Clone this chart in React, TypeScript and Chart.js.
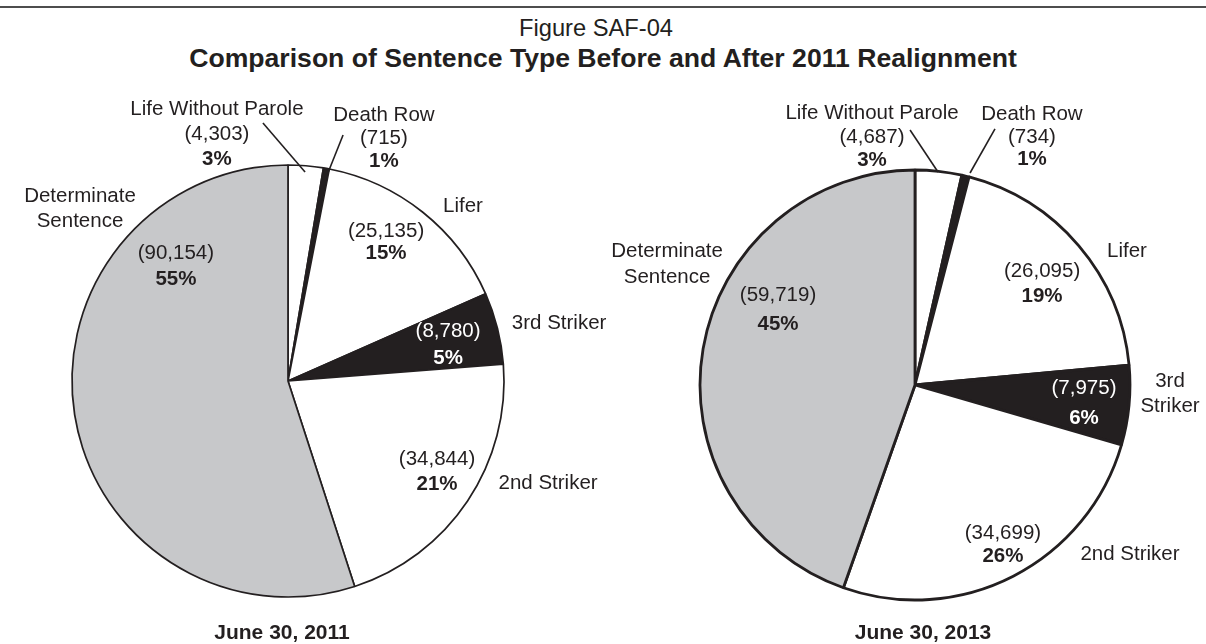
import React, { useEffect, useRef } from 'react';
import { Chart, registerables } from 'chart.js';

Chart.register(...registerables);

// ---------- data ----------
const figureLabel = 'Figure SAF-04';
const titleText = 'Comparison of Sentence Type Before and After 2011 Realignment';

const names2011 = ['Life Without Parole', 'Death Row', 'Lifer', '3rd Striker', '2nd Striker', 'Determinate\nSentence'];
const counts2011 = [4303, 715, 25135, 8780, 34844, 90154];
const percents2011 = [3, 1, 15, 5, 21, 55];
const date2011 = 'June 30, 2011';

const names2013 = ['Life Without Parole', 'Death Row', 'Lifer', '3rd\nStriker', '2nd Striker', 'Determinate\nSentence'];
const counts2013 = [4687, 734, 26095, 7975, 34699, 59719];
const percents2013 = [3, 1, 19, 6, 26, 45];
const date2013 = 'June 30, 2013';

// ---------- styles ----------
const INK = '#231f20';
const GRAY = '#c7c8ca';
const sliceColors = ['#ffffff', INK, '#ffffff', INK, '#ffffff', GRAY];
const FONT = '"Liberation Sans", Arial, Helvetica, sans-serif';
const LABEL_SIZE = 20.5;

type Block = { dx: number; dy: number; gap: number; parts: string[]; color?: string };
type SliceLayout = { blocks: Block[]; leader?: number[] };

// offsets in units of the pie radius, relative to the pie centre
const layout2011: SliceLayout[] = [
  { blocks: [{ dx: -0.329, dy: -1.264, gap: 25, parts: ['name', 'count', 'pct'] }], leader: [-0.116, -1.194, 0.079, -0.968] },
  { blocks: [{ dx: 0.444, dy: -1.236, gap: 23, parts: ['name', 'count', 'pct'] }], leader: [0.255, -1.139, 0.181, -0.954] },
  { blocks: [{ dx: 0.81, dy: -0.815, gap: 25, parts: ['name'] }, { dx: 0.454, dy: -0.699, gap: 22, parts: ['count', 'pct'] }] },
  { blocks: [{ dx: 1.255, dy: -0.273, gap: 25, parts: ['name'] }, { dx: 0.741, dy: -0.236, gap: 27, parts: ['count', 'pct'], color: '#ffffff' }] },
  { blocks: [{ dx: 1.204, dy: 0.468, gap: 25, parts: ['name'] }, { dx: 0.69, dy: 0.356, gap: 25, parts: ['count', 'pct'] }] },
  { blocks: [{ dx: -0.963, dy: -0.861, gap: 25, parts: ['name'] }, { dx: -0.519, dy: -0.597, gap: 26, parts: ['count', 'pct'] }] },
];

const layout2013: SliceLayout[] = [
  { blocks: [{ dx: -0.2, dy: -1.27, gap: 23.5, parts: ['name', 'count', 'pct'] }], leader: [-0.023, -1.186, 0.107, -0.991] },
  { blocks: [{ dx: 0.544, dy: -1.265, gap: 22.5, parts: ['name', 'count', 'pct'] }], leader: [0.372, -1.191, 0.256, -0.986] },
  { blocks: [{ dx: 0.986, dy: -0.628, gap: 25, parts: ['name'] }, { dx: 0.591, dy: -0.535, gap: 25, parts: ['count', 'pct'] }] },
  { blocks: [{ dx: 1.186, dy: -0.023, gap: 25, parts: ['name'] }, { dx: 0.786, dy: 0.009, gap: 30, parts: ['count', 'pct'], color: '#ffffff' }] },
  { blocks: [{ dx: 1.0, dy: 0.781, gap: 25, parts: ['name'] }, { dx: 0.409, dy: 0.684, gap: 23, parts: ['count', 'pct'] }] },
  { blocks: [{ dx: -1.153, dy: -0.628, gap: 26, parts: ['name'] }, { dx: -0.637, dy: -0.423, gap: 29, parts: ['count', 'pct'] }] },
];

function makeLabelPlugin(names: string[], counts: number[], percents: number[], layout: SliceLayout[]) {
  return {
    id: 'sliceLabels',
    afterDraw(chart: any) {
      const ctx: CanvasRenderingContext2D = chart.ctx;
      const meta = chart.getDatasetMeta(0);
      ctx.save();
      ctx.textAlign = 'center';
      ctx.textBaseline = 'alphabetic';
      meta.data.forEach((arc: any, i: number) => {
        const { x, y, outerRadius } = arc.getProps(['x', 'y', 'outerRadius'], true);
        const R = outerRadius;
        const lay = layout[i];
        if (!lay) return;
        if (lay.leader) {
          const [a, b, c, d] = lay.leader;
          ctx.strokeStyle = INK;
          ctx.lineWidth = 1.6;
          ctx.beginPath();
          ctx.moveTo(x + a * R, y + b * R);
          ctx.lineTo(x + c * R, y + d * R);
          ctx.stroke();
        }
        lay.blocks.forEach((blk) => {
          const lines: { text: string; bold: boolean }[] = [];
          blk.parts.forEach((p) => {
            if (p === 'name') names[i].split('\n').forEach((t) => lines.push({ text: t, bold: false }));
            if (p === 'count') lines.push({ text: '(' + counts[i].toLocaleString('en-US') + ')', bold: false });
            if (p === 'pct') lines.push({ text: percents[i] + '%', bold: true });
          });
          ctx.fillStyle = blk.color || INK;
          lines.forEach((ln, k) => {
            ctx.font = (ln.bold ? 'bold ' : '') + LABEL_SIZE + 'px ' + FONT;
            const cx = x + blk.dx * R;
            const cy = y + blk.dy * R + k * blk.gap;
            ctx.fillText(ln.text, cx, cy + LABEL_SIZE * 0.36);
          });
        });
      });
      ctx.restore();
    },
  };
}

type PieProps = {
  names: string[];
  counts: number[];
  percents: number[];
  layout: SliceLayout[];
  borderWidth: number;
  radius: number;
  padding: { left: number; top: number; right: number; bottom: number };
};

function PieCanvas(props: PieProps) {
  const ref = useRef<HTMLCanvasElement | null>(null);
  useEffect(() => {
    if (!ref.current) return;
    const chart = new Chart(ref.current, {
      type: 'pie',
      data: {
        labels: props.names,
        datasets: [
          {
            data: props.counts,
            backgroundColor: sliceColors,
            borderColor: INK,
            borderWidth: props.borderWidth,
          },
        ],
      },
      options: {
        responsive: false,
        animation: false,
        events: [],
        radius: props.radius,
        layout: { padding: props.padding },
        plugins: { legend: { display: false }, tooltip: { enabled: false }, title: { display: false } },
      } as any,
      plugins: [makeLabelPlugin(props.names, props.counts, props.percents, props.layout)],
    });
    return () => chart.destroy();
  }, []);
  return <canvas ref={ref} width={1206} height={644} style={{ position: 'absolute', left: 0, top: 0, width: 1206, height: 644 }} />;
}

export default function App() {
  return (
    <div style={{ position: 'absolute', left: 0, top: 0, width: 1206, height: 644, background: '#ffffff', overflow: 'hidden', fontFamily: FONT, color: INK }}>
      <div style={{ position: 'absolute', left: 0, top: 6, width: 1206, height: 2, background: '#4d4d4d' }} />
      <div style={{ position: 'absolute', left: 0, top: 16, width: 1192, textAlign: 'center', fontSize: 23.7, lineHeight: '24px', whiteSpace: 'nowrap' }}>{figureLabel}</div>
      <div style={{ position: 'absolute', left: 0, top: 45, width: 1206, textAlign: 'center', fontSize: 26.6, lineHeight: '26px', fontWeight: 'bold', whiteSpace: 'nowrap' }}>{titleText}</div>
      <PieCanvas
        names={names2011}
        counts={counts2011}
        percents={percents2011}
        layout={layout2011}
        borderWidth={1.7}
        radius={216}
        padding={{ left: 72, top: 165, right: 702, bottom: 47 }}
      />
      <PieCanvas
        names={names2013}
        counts={counts2013}
        percents={percents2013}
        layout={layout2013}
        borderWidth={2.8}
        radius={215}
        padding={{ left: 700, top: 170, right: 76, bottom: 44 }}
      />
      <div style={{ position: 'absolute', left: 282 - 150, top: 622, width: 300, textAlign: 'center', fontSize: 21, lineHeight: '20px', fontWeight: 'bold', whiteSpace: 'nowrap' }}>{date2011}</div>
      <div style={{ position: 'absolute', left: 923 - 150, top: 622, width: 300, textAlign: 'center', fontSize: 21, lineHeight: '20px', fontWeight: 'bold', whiteSpace: 'nowrap' }}>{date2013}</div>
    </div>
  );
}
